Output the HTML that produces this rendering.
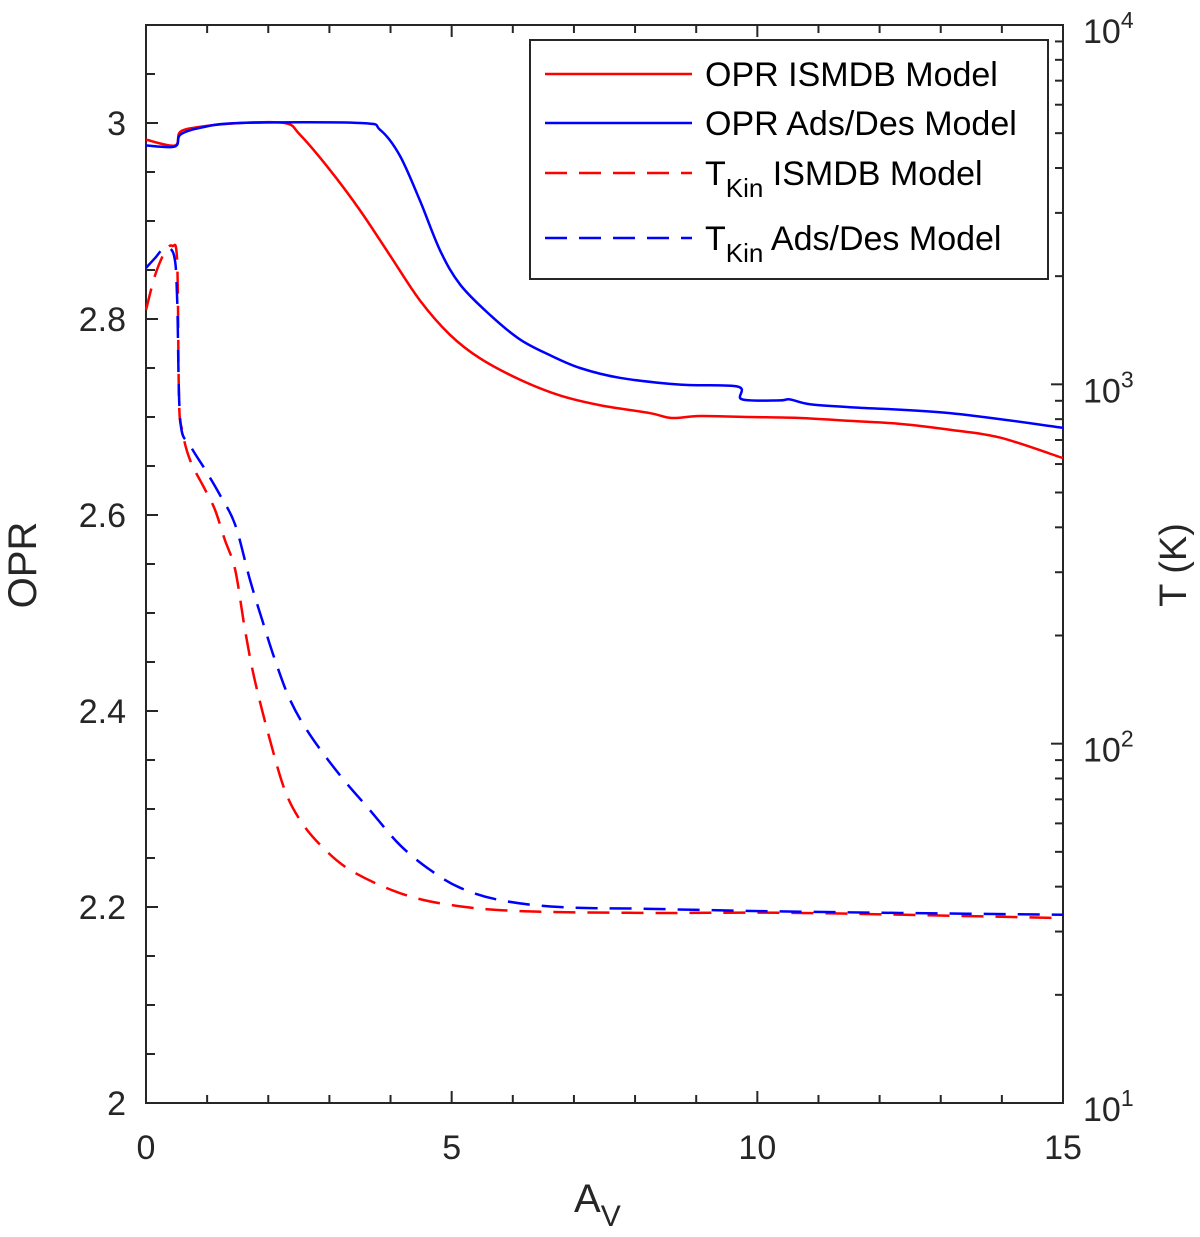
<!DOCTYPE html>
<html><head><meta charset="utf-8"><style>
html,body{margin:0;padding:0;background:#fff;}
svg{display:block;font-family:"Liberation Sans",sans-serif;}
</style></head><body>
<svg id="chart" width="1200" height="1237" viewBox="0 0 1200 1237" xmlns="http://www.w3.org/2000/svg"></svg>
<script>
// ---- data ----
const oprIsmA = [0,0.47,0.56,0.88,1.54,2.27,2.52,3.01,3.50,3.99,4.48,4.97,5.46,6.12,6.77,7.43,8.24,8.6,9.06,9.88,10.70,11.52,12.33,13.15,13.97,15];
const oprIsmV = [2.983,2.977,2.991,2.996,3.0,3.0,2.988,2.952,2.911,2.865,2.819,2.784,2.760,2.738,2.722,2.712,2.704,2.699,2.701,2.700,2.699,2.696,2.693,2.687,2.679,2.658];
const oprAdsA = [0,0.47,0.56,0.88,1.54,3.5,3.83,4.15,4.48,4.81,5.14,5.63,6.12,6.61,7.10,7.75,8.74,9.68,9.75,10.37,10.53,10.86,11.52,13.15,15];
const oprAdsV = [2.977,2.976,2.988,2.995,3.0,3.0,2.993,2.967,2.921,2.870,2.835,2.804,2.779,2.763,2.750,2.740,2.733,2.731,2.718,2.717,2.718,2.713,2.710,2.704,2.689];
const tIsmA = [0,0.15,0.31,0.43,0.51,0.54,0.59,0.72,0.97,1.13,1.29,1.46,1.62,1.78,2.03,2.27,2.52,2.85,3.34,4.15,4.97,6.12,8.24,10.70,15];
const tIsmV = [1611,2015,2337,2428,2191,906,746,616,508,447,369,304,207,150,102,74.3,61.3,52.3,44.5,38.4,35.6,34.2,33.8,33.8,32.7];
const tAdsA = [0,0.15,0.31,0.46,0.51,0.56,0.72,0.97,1.21,1.46,1.70,1.90,2.11,2.36,2.68,3.17,3.66,4.15,4.65,5.14,5.79,6.77,8.24,10.04,12.33,15];
const tAdsV = [2109,2248,2399,2277,1718,796,678,578,492,406,286,221,171,132,106,81.8,65.4,52.3,44.5,39.7,36.7,35.1,34.7,34.2,33.8,33.4];
const xTicks = [0,5,10,15];
const yTicks = [2,2.2,2.4,2.6,2.8,3];
const rTicksExp = [1,2,3,4];
// ---- axes ----
const L=146,R=1063,T=25,B=1103;
const xs=a=>L+(a/15)*(R-L);
const ys=v=>B-(v-2)/1.1*(B-T);
const yr=t=>B-(Math.log10(t)-1)/3*(B-T);
const NS="http://www.w3.org/2000/svg";
const svg=document.getElementById('chart');
function mk(tag,attrs,parent){const e=document.createElementNS(NS,tag);for(const k in attrs)e.setAttribute(k,attrs[k]);(parent||svg).appendChild(e);return e;}
const ax=mk('g',{stroke:'#262626','stroke-width':2,fill:'none'});


mk('rect',{x:L,y:T,width:R-L,height:B-T},ax);
for(let a=0;a<=15;a++){const x=xs(a),len=a%5===0?12:8;mk('line',{x1:x,y1:B,x2:x,y2:B-len},ax);mk('line',{x1:x,y1:T,x2:x,y2:T+len},ax);}
xTicks.forEach(a=>{const t=mk('text',{x:xs(a),y:1159,'font-size':34,'text-anchor':'middle',fill:'#262626'});t.textContent=a;

});
for(let i=0;i<=21;i++){const v=2+i*0.05,y=ys(v),len=i%4===0?12:9;mk('line',{x1:L,y1:y,x2:L+len,y2:y},ax);}
yTicks.forEach(v=>{const t=mk('text',{x:126,y:ys(v)+12,'font-size':34,'text-anchor':'end',fill:'#262626'});t.textContent=(v===2||v===3)?String(v):v.toFixed(1);

});
for(let d=1;d<4;d++){for(let m=1;m<10;m++){const y=yr(m*Math.pow(10,d));mk('line',{x1:R,y1:y,x2:R-(m===1?12:8),y2:y},ax);}}
rTicksExp.forEach(e=>{const t=mk('text',{x:1083,y:yr(Math.pow(10,e))+18,'font-size':34,fill:'#262626'});t.innerHTML='10<tspan dy="-15" font-size="23">'+e+'</tspan>';

});
function smooth(P){let d='M'+P[0][0]+','+P[0][1];for(let i=0;i<P.length-1;i++){const p0=P[Math.max(i-1,0)],p1=P[i],p2=P[i+1],p3=P[Math.min(i+2,P.length-1)];
const c1=[p1[0]+(p2[0]-p0[0])/6,p1[1]+(p2[1]-p0[1])/6],c2=[p2[0]-(p3[0]-p1[0])/6,p2[1]-(p3[1]-p1[1])/6];
d+=' C'+c1[0]+','+c1[1]+' '+c2[0]+','+c2[1]+' '+p2[0]+','+p2[1];}return d;}
function line(A,V,scale,color,dash,name){const P=A.map((a,i)=>[xs(a),scale(V[i])]);const p=mk('path',{d:smooth(P),fill:'none',stroke:color,'stroke-width':2.5,'stroke-linejoin':'round'});if(dash)p.setAttribute('stroke-dasharray',dash);

}
line(tIsmA,tIsmV,yr,'#ff0000','22 12','tkin-ismdb-line');
line(tAdsA,tAdsV,yr,'#0000ff','22 12','tkin-adsdes-line');
line(oprIsmA,oprIsmV,ys,'#ff0000',null,'opr-ismdb-line');
line(oprAdsA,oprAdsV,ys,'#0000ff',null,'opr-adsdes-line');
</script>
<svg style="position:absolute;left:0;top:0" width="1200" height="1237">
<g font-family="Liberation Sans, sans-serif" fill="#262626">
<text x="36" y="565" font-size="40" text-anchor="middle" transform="rotate(-90 36 565)">OPR</text>
<text x="1186" y="565" font-size="38" text-anchor="middle" transform="rotate(-90 1186 565)">T (K)</text>
<text x="574" y="1212" font-size="40">A<tspan font-size="30" dy="14">V</tspan></text>
</g>
<g>
<rect x="530" y="40" width="518" height="239" fill="#fff" stroke="#262626" stroke-width="2"/>
<line x1="545" y1="74" x2="692" y2="74" stroke="#f00" stroke-width="2.5"/>
<line x1="545" y1="123" x2="692" y2="123" stroke="#00f" stroke-width="2.5"/>
<line x1="545" y1="173" x2="692" y2="173" stroke="#f00" stroke-width="2.5" stroke-dasharray="22 12"/>
<line x1="545" y1="238" x2="692" y2="238" stroke="#00f" stroke-width="2.5" stroke-dasharray="22 12"/>
<g font-family="Liberation Sans, sans-serif" font-size="34" fill="#000">
<text x="705" y="86">OPR ISMDB Model</text>
<text x="705" y="135">OPR Ads/Des Model</text>
<text x="705" y="185">T<tspan font-size="26" dy="12">Kin</tspan><tspan dy="-12"> ISMDB Model</tspan></text>
<text x="705" y="250">T<tspan font-size="26" dy="12">Kin</tspan><tspan dy="-12"> Ads/Des Model</tspan></text>
</g></g>
</svg>
</body></html>
